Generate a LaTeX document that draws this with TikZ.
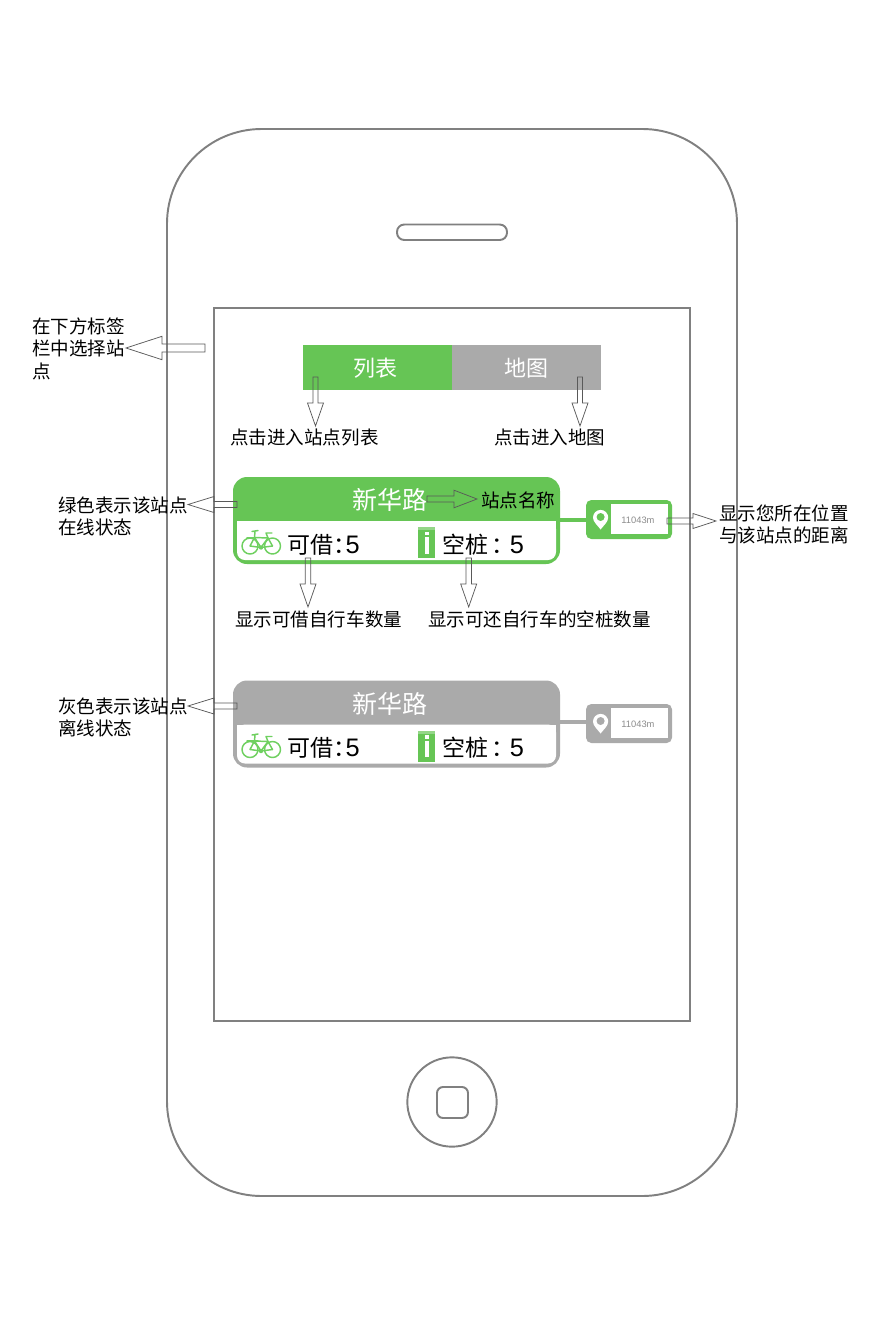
\documentclass[tikz,border=0pt]{standalone}
\usepackage{fontspec}
\setmainfont{Noto Sans CJK SC}
\newfontfamily\latinfont{Liberation Sans}
\definecolor{gr}{HTML}{66C555}
\definecolor{gy}{HTML}{AAAAAA}
\definecolor{bk}{HTML}{6FD060}
\definecolor{ph}{HTML}{808080}
\newcommand{\fs}[1]{\fontsize{#1}{#1}\selectfont}
\newcommand{\fivedigit}{{\latinfont\fs{19pt}5}}
\tikzset{
  phoneline/.style={draw=ph,line width=1.45pt},
  blockarrow/.style={draw=black!65,line width=0.55pt,line join=miter},
  notelabel/.style={anchor=west,inner sep=0pt,yshift=-0.3pt,text=black,font=\fs{13.9pt}},
  cardtitle/.style={inner sep=0pt,text=white,font=\fs{18.75pt}},
  tabtitle/.style={inner sep=0pt,text=white,font=\fs{16.5pt}},
  counttext/.style={anchor=west,inner sep=0pt,text=black,font=\fs{17.25pt}},
  bikeline/.style={draw=bk,line width=1.1pt,line cap=round,line join=round},
}
% tail point, rotation, length, head length, shaft half width, head half width
\newcommand{\blockarr}[6]{%
  \draw[blockarrow,shift={(#1)},rotate=#2]
    (0,-#5)--(#3-#4,-#5)--(#3-#4,-#6)--(#3,0)--(#3-#4,#6)--(#3-#4,#5)--(0,#5)--cycle;}
% bicycle with the given origin
\newcommand{\bike}[1]{%
  \begin{scope}[shift={(#1)}]
    \draw[bikeline] (250,546) circle (8);
    \draw[bikeline] (272.5,546) circle (8);
    \draw[bikeline] (250,546)--(254.5,537.5)--(261,547.5)--cycle;
    \draw[bikeline] (261,547.5)--(268,538)--(272.5,546);
    \draw[bikeline] (261,547.5)--(272.5,546);
    \draw[bikeline] (254.5,537.5)--(268,538);
    \draw[bikeline] (247,537.5)--(258,537.5);
    \draw[bikeline] (254.5,537.5)--(255,531.5);
    \draw[bikeline] (252,531.5)--(258,530.5);
    \draw[bikeline] (268,538)--(266,533)--(272,533);
    \fill[bk] (261,547.5) circle (2.2);
  \end{scope}}
% info icon
\newcommand{\infoicon}[1]{%
  \begin{scope}[shift={(#1)}]
    \fill[gr] (418,527) rectangle (435,558);
    \fill[gr!70!white] (418,527) rectangle (435,530);
    \fill[white] (425,531.5) rectangle (428.5,535);
    \fill[white] (425,537) rectangle (428.5,553.5);
  \end{scope}}
% tag pin
\newcommand{\pinicon}[2]{%
  \begin{scope}[shift={(#1)}]
    \fill[white] (593,517.5) arc[start angle=180,end angle=360,radius=7.6]
       .. controls (608.2,522) and (603.5,525.5) .. (600.6,529.5)
       .. controls (597.7,525.5) and (593,522) .. (593,517.5) -- cycle;
    \fill[#2] (600.6,517) circle (4);
  \end{scope}}
\begin{document}
\begin{tikzpicture}[x=0.75pt,y=-0.75pt]
\useasboundingbox (0,0) rectangle (877,1320);
\fill[white] (0,0) rectangle (877,1320);

% phone
\draw[phoneline,rounded corners=71pt] (167,129) rectangle (737,1196);
\draw[phoneline,rounded corners=5.5pt] (397,224.5) rectangle (507,240);
\draw[phoneline] (214,308) rectangle (690,1021);
\node[phoneline,circle,minimum size=67pt,inner sep=0pt] (homebtn) at (452,1102) {};
\draw[phoneline,rounded corners=4.5pt] (437,1087) rectangle (468,1118);

% tabs
\node[fill=gr,anchor=north west,minimum width=111.75pt,minimum height=33.75pt,inner sep=0pt] (tablist) at (303,345) {};
\node[fill=gy,anchor=north west,minimum width=111.75pt,minimum height=33.75pt,inner sep=0pt] (tabmap) at (452,345) {};
\node[tabtitle] (tablisttext) at (375,368) {列表};
\node[tabtitle] (tabmaptext) at (526,368) {地图};

% green card
\draw[gr,line width=3pt] (560,520)--(587,520);
\fill[gr,rounded corners=10.5pt] (233,477) rectangle (560,564);
\fill[white,rounded corners=6pt] (237,521) -- (556,521) -- (556,560) -- (237,560) -- cycle;
\fill[white] (237,521) rectangle (556,530);
\node[cardtitle] (titleon) at (390,500) {新华路};
\bike{0,0}
\infoicon{0,0}
\node[counttext] (borrowon) at (287,544.5) {可借：\hspace{-8pt}\fivedigit};
\node[counttext] (parkon) at (442,544.5) {空桩\hspace{2.5pt}：\hspace{-3.5pt}\fivedigit};

% green tag
\fill[gr,rounded corners=4pt] (586,500) rectangle (672,539);
\fill[white] (611,504) rectangle (668,534);
\pinicon{0,0}{gr}
\node[inner sep=0pt,text=black!45,font=\latinfont\fs{7pt}] (disson) at (638,520.5) {11043m};

% grey card
\draw[gy,line width=3pt] (560,722)--(587,722);
\fill[gy,rounded corners=10.5pt] (233,680.5) rectangle (560,767.5);
\fill[white,rounded corners=6pt] (237,724.5) -- (556,724.5) -- (556,763.5) -- (237,763.5) -- cycle;
\fill[white] (237,724.5) rectangle (556,733.5);
\node[cardtitle] (titleoff) at (390,703.5) {新华路};
\bike{0,203.5}
\infoicon{0,203.5}
\node[counttext] (borrowoff) at (287,748) {可借：\hspace{-8pt}\fivedigit};
\node[counttext] (parkoff) at (442,748) {空桩\hspace{2.5pt}：\hspace{-3.5pt}\fivedigit};

% grey tag
\fill[gy,rounded corners=4pt] (586,704) rectangle (672,743);
\fill[white] (611,708) rectangle (668,738);
\pinicon{0,204}{gy}
\node[inner sep=0pt,text=black!45,font=\latinfont\fs{7pt}] (dissoff) at (638,724.5) {11043m};

% labels
\node[notelabel] (n1) at (32,326) {在下方标签};
\node[notelabel] (n2) at (32,348) {栏中选择站};
\node[notelabel] (n3) at (32,371) {点};
\node[notelabel] (n4) at (230,437) {点击进入站点列表};
\node[notelabel] (n5) at (494,437) {点击进入地图};
\node[notelabel] (n6) at (58,505) {绿色表示该站点};
\node[notelabel] (n7) at (58,527) {在线状态};
\node[notelabel] (n8) at (481,500) {站点名称};
\node[notelabel] (n9) at (719,513) {显示您所在位置};
\node[notelabel] (n10) at (719,535) {与该站点的距离};
\node[notelabel] (n11) at (235,619) {显示可借自行车数量};
\node[notelabel] (n12) at (428,619) {显示可还自行车的空桩数量};
\node[notelabel] (n13) at (58,706) {灰色表示该站点};
\node[notelabel] (n14) at (58,728) {离线状态};

% block arrows
\blockarr{205,348}{180}{79}{36}{4}{11.7}
\blockarr{315.5,377}{-90}{49}{23}{2.5}{8}
\blockarr{580,377}{-90}{49}{23}{2.5}{8}
\blockarr{237,504.5}{180}{49}{26}{3}{8}
\blockarr{427,499}{0}{50}{23}{3}{8.8}
\blockarr{308,558}{-90}{49}{23}{2.7}{8}
\blockarr{468.7,558}{-90}{49}{23}{2.7}{8}
\blockarr{667,521}{0}{49}{23}{3}{7.5}
\blockarr{237,706}{180}{49}{26}{3}{8}
\end{tikzpicture}
\end{document}
